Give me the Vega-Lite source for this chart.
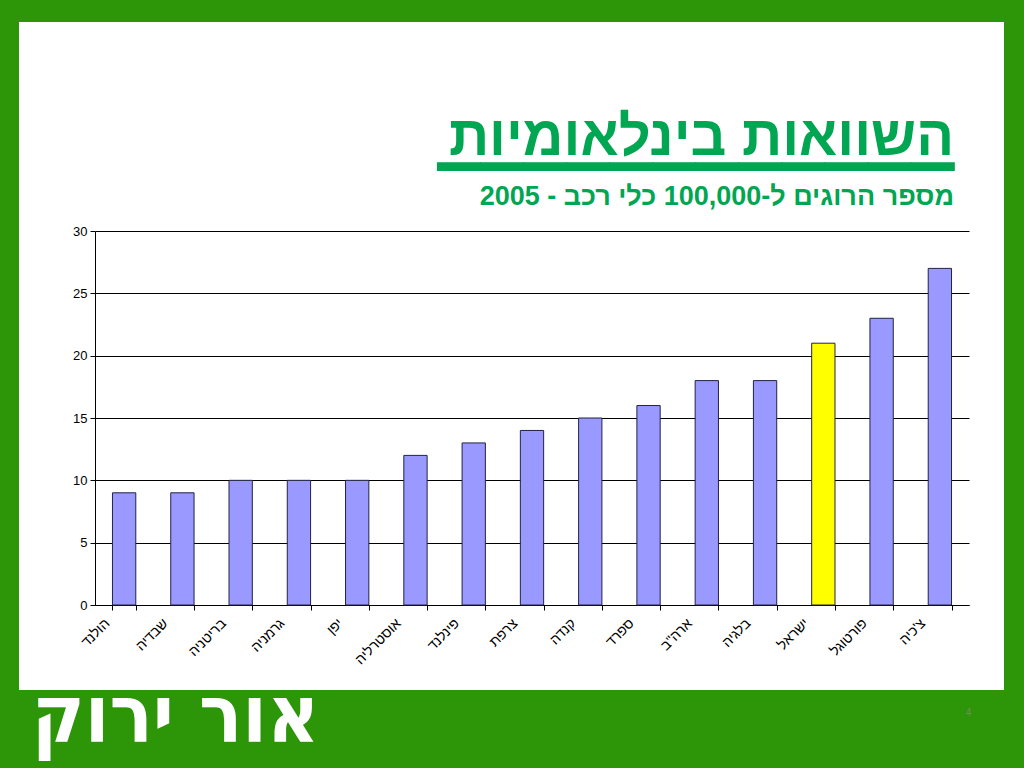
{
  "$schema": "https://vega.github.io/schema/vega-lite/v6.json",
  "width": 985,
  "height": 668,
  "autosize": "none",
  "padding": {"left": 19, "top": 22, "right": 20, "bottom": 78},
  "background": "#2C9508",
  "config": {
    "view": {"fill": "white", "stroke": null},
    "font": "Liberation Sans"
  },
  "title": {
    "text": ["השוואות בינלאומיות", "▁▁▁▁▁▁▁▁▁▁▁▁"],
    "subtitle": "מספר הרוגים ל-100,000 כלי רכב - 2005",
    "anchor": "end",
    "frame": "group",
    "orient": "top",
    "dx": -50,
    "offset": -189,
    "font": "Liberation Sans, DejaVu Sans",
    "fontSize": 56,
    "lineHeight": 2,
    "fontWeight": "bold",
    "color": "#00A651",
    "subtitleFont": "Liberation Sans",
    "subtitleFontSize": 27,
    "subtitleFontWeight": "bold",
    "subtitleColor": "#00A651",
    "subtitlePadding": 15
  },
  "data": {
    "values": [
      {"country": "הולנד", "value": 9},
      {"country": "שבדיה", "value": 9},
      {"country": "בריטניה", "value": 10},
      {"country": "גרמניה", "value": 10},
      {"country": "יפן", "value": 10},
      {"country": "אוסטרליה", "value": 12},
      {"country": "פינלנד", "value": 13},
      {"country": "צרפת", "value": 14},
      {"country": "קנדה", "value": 15},
      {"country": "ספרד", "value": 16},
      {"country": "ארה\"ב", "value": 18},
      {"country": "בלגיה", "value": 18},
      {"country": "ישראל", "value": 21},
      {"country": "פורטוגל", "value": 23},
      {"country": "צ'כיה", "value": 27}
    ]
  },
  "mark": {"type": "bar", "stroke": "#222244", "strokeWidth": 1},
  "encoding": {
    "x": {
      "field": "country",
      "type": "nominal",
      "sort": null,
      "scale": {"range": [76, 950], "paddingInner": 0.6, "paddingOuter": 0.3},
      "axis": {
        "offset": -85,
        "tickBand": "extent",
        "tickSize": 5,
        "tickColor": "#000000",
        "domainColor": "#000000",
        "labelAngle": -45,
        "labelFontSize": 14,
        "labelColor": "#000000",
        "labelPadding": 6,
        "labelOffset": -22,
        "grid": false,
        "title": "אור ירוק",
        "titleColor": "white",
        "titleFont": "DejaVu Sans Condensed, DejaVu Sans",
        "titleFontSize": 80,
        "titleFontWeight": "bold",
        "titleAlign": "center",
        "titleBaseline": "alphabetic",
        "titleAngle": 0,
        "titleX": 156,
        "titleY": 136
      }
    },
    "y": {
      "field": "value",
      "type": "quantitative",
      "scale": {"domain": [0, 30], "range": [583, 209], "nice": false},
      "axis": {
        "offset": -76,
        "values": [0, 5, 10, 15, 20, 25, 30],
        "tickSize": 5,
        "tickColor": "#000000",
        "domainColor": "#000000",
        "gridColor": "#000000",
        "gridOpacity": 1,
        "labelFontSize": 13,
        "labelColor": "#000000",
        "labelPadding": 3,
        "title": "4",
        "titleColor": "#6E8F5A",
        "titleFontSize": 10,
        "titleFontWeight": "normal",
        "titleAngle": 0,
        "titleAlign": "center",
        "titleBaseline": "middle",
        "titleX": 873,
        "titleY": 690
      }
    },
    "color": {
      "condition": {"test": "datum.country === 'ישראל'", "value": "#FFFF00"},
      "value": "#9999FF"
    }
  }
}
